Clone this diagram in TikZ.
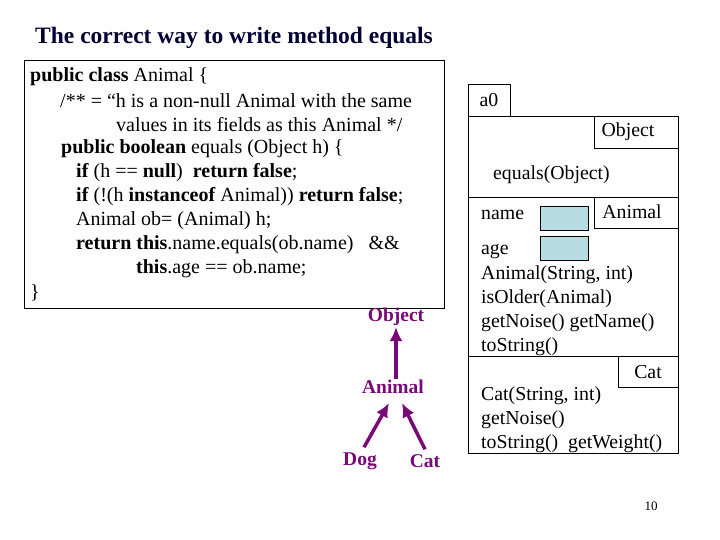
\documentclass[tikz,border=0pt]{standalone}
\usepackage{fontspec}
\setmainfont{Liberation Serif}
\usetikzlibrary{arrows.meta}
\definecolor{fieldblue}{RGB}{183,221,226}
\definecolor{treepurple}{RGB}{120,10,120}
\begin{document}
\begin{tikzpicture}[x=1pt,y=-1pt,
  code/.style={anchor=west,inner sep=0pt,font=\fontsize{20}{21}\selectfont},
  ob/.style={anchor=west,inner sep=0pt,font=\fontsize{19.8}{21}\selectfont},
  tree/.style={inner sep=1pt,font=\fontsize{19.5}{21}\selectfont\bfseries,text=treepurple},
  tarrow/.style={-{Latex[length=14pt,width=13pt]},line width=3.5pt,draw=treepurple},
  box/.style={draw,line width=0.8pt}]
\useasboundingbox (0,0) rectangle (720,540);
\node[anchor=west,inner sep=0pt,font=\fontsize{23.5}{25}\selectfont\bfseries,text=black!80!blue] (title) at (35,38) {The correct way to write method equals};
\draw[box] (24,60) rectangle (444,308);
\node[code] (l1) at (30,77) {\textbf{public class} Animal \{};
\node[code] (l2) at (60,101) {/** = “h is a non-null Animal with the same};
\node[code] (l3) at (116,125) {values in its fields as this Animal */};
\node[code] (l4) at (61,149) {\textbf{public boolean} equals (Object h) \{};
\node[code] (l5) at (76,173) {\textbf{if} (h == \textbf{null})\ \ \textbf{return false};};
\node[code] (l6) at (76,197) {\textbf{if} (!(h \textbf{instanceof} Animal)) \textbf{return false};};
\node[code] (l7) at (76,221) {Animal ob= (Animal) h;};
\node[code] (l8) at (76,245) {\textbf{return this}.name.equals(ob.name)\ \ \ \&\&};
\node[code] (l9) at (136,269) {\textbf{this}.age == ob.name;};
\node[code] (l10) at (30,293) {\}};
% tree
\node[tree] (tobj) at (396,317) {Object};
\node[tree] (tani) at (393,387) {Animal};
\node[tree] (tdog) at (360,461) {Dog};
\node[tree] (tcat) at (425,461) {Cat};
\draw[tarrow] (tani.north -| tobj) -- (tobj.south);
\draw[tarrow] (tdog.north) ++(4,-4) -- (389,403);
\draw[tarrow] (tcat.north) ++(0,-4) -- (402,403);
% object box
\draw[box] (468,84) rectangle (510,116);
\node[ob,anchor=center] (a0) at (489,100) {a0};
\draw[box] (468,116) rectangle (678,453);
\draw[box] (594,116) rectangle (678,148);
\node[ob,anchor=center] (tObject) at (628,132) {Object};
\node[ob] (eq) at (493,175) {equals(Object)};
\draw[box] (468,197) -- (678,197);
\draw[box] (594,197) rectangle (678,228);
\node[ob,anchor=center] (tAnimal) at (632,212) {Animal};
\node[ob] (fname) at (481,215) {name};
\draw[draw=black,fill=fieldblue,line width=0.8pt] (540,206) rectangle (588,230);
\draw[draw=black,fill=fieldblue,line width=0.8pt] (540,236) rectangle (588,260);
\node[ob] (fage) at (481,252) {age};
\node[ob] (m1) at (481,275) {Animal(String, int)};
\node[ob] (m2) at (481,299) {isOlder(Animal)};
\node[ob] (m3) at (481,323) {getNoise() getName()};
\node[ob] (m4) at (481,347) {toString()};
\draw[box] (468,356) -- (678,356);
\draw[box] (618,356) rectangle (678,387);
\node[ob,anchor=center] (tCat) at (648,372) {Cat};
\node[ob] (c1) at (481,396) {Cat(String, int)};
\node[ob] (c2) at (481,420) {getNoise()};
\node[ob] (c3) at (481,444) {toString()\ \ getWeight()};
\node[inner sep=0pt,font=\fontsize{13}{14}\selectfont] (pg) at (651,506) {10};
\end{tikzpicture}
\end{document}
